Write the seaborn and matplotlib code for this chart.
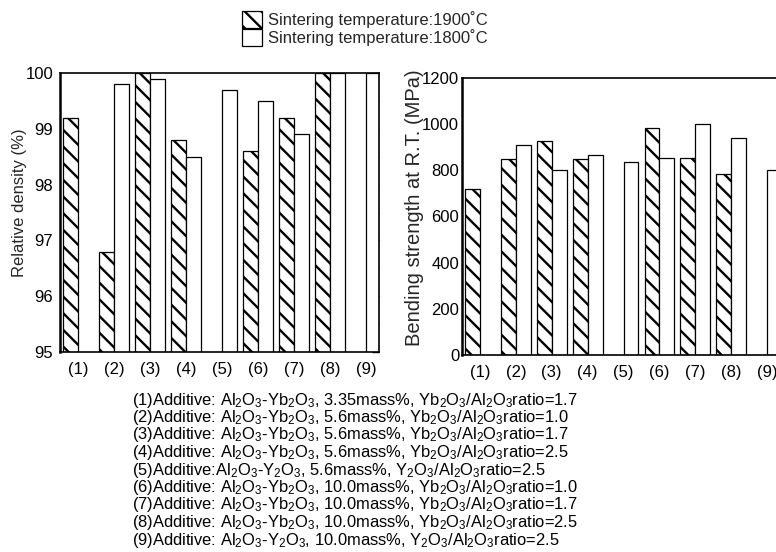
import numpy as np
import pandas as pd
import matplotlib
matplotlib.use("Agg")
import matplotlib.pyplot as plt
from matplotlib.patches import Patch
from matplotlib.ticker import MultipleLocator
import seaborn as sns

# Sample labels and sintering conditions
samples = ["(1)", "(2)", "(3)", "(4)", "(5)", "(6)", "(7)", "(8)", "(9)"]
temps = ["Sintering temperature:1900˚C", "Sintering temperature:1800˚C"]

# Relative density (%)
density_1900 = [99.2, 96.8, 100.0, 98.8, np.nan, 98.6, 99.2, 100.0, np.nan]
density_1800 = [np.nan, 99.8, 99.9, 98.5, 99.7, 99.5, 98.9, 100.0, 100.0]

# Bending strength at room temperature (MPa)
strength_1900 = [720, 850, 925, 850, np.nan, 985, 855, 785, np.nan]
strength_1800 = [np.nan, 910, 800, 865, 835, 855, 1000, 940, 800]

captions = [
    "(1)Additive: Al$_2$O$_3$-Yb$_2$O$_3$, 3.35mass%, Yb$_2$O$_3$/Al$_2$O$_3$ratio=1.7",
    "(2)Additive: Al$_2$O$_3$-Yb$_2$O$_3$, 5.6mass%, Yb$_2$O$_3$/Al$_2$O$_3$ratio=1.0",
    "(3)Additive: Al$_2$O$_3$-Yb$_2$O$_3$, 5.6mass%, Yb$_2$O$_3$/Al$_2$O$_3$ratio=1.7",
    "(4)Additive: Al$_2$O$_3$-Yb$_2$O$_3$, 5.6mass%, Yb$_2$O$_3$/Al$_2$O$_3$ratio=2.5",
    "(5)Additive:Al$_2$O$_3$-Y$_2$O$_3$, 5.6mass%, Y$_2$O$_3$/Al$_2$O$_3$ratio=2.5",
    "(6)Additive: Al$_2$O$_3$-Yb$_2$O$_3$, 10.0mass%, Yb$_2$O$_3$/Al$_2$O$_3$ratio=1.0",
    "(7)Additive: Al$_2$O$_3$-Yb$_2$O$_3$, 10.0mass%, Yb$_2$O$_3$/Al$_2$O$_3$ratio=1.7",
    "(8)Additive: Al$_2$O$_3$-Yb$_2$O$_3$, 10.0mass%, Yb$_2$O$_3$/Al$_2$O$_3$ratio=2.5",
    "(9)Additive: Al$_2$O$_3$-Y$_2$O$_3$, 10.0mass%, Y$_2$O$_3$/Al$_2$O$_3$ratio=2.5",
]

sns.set_theme(style="white")
plt.rcParams["font.family"] = ["Liberation Sans", "DejaVu Sans"]
plt.rcParams["mathtext.fontset"] = "custom"
plt.rcParams["mathtext.rm"] = "Liberation Sans"
plt.rcParams["mathtext.default"] = "regular"
plt.rcParams["hatch.linewidth"] = 1.7
plt.rcParams["hatch.color"] = "black"

HATCH = "\\\\"


def long_table(v1900, v1800):
    rows = []
    for s, a, b in zip(samples, v1900, v1800):
        rows.append((s, temps[0], a))
        rows.append((s, temps[1], b))
    df = pd.DataFrame(rows, columns=["sample", "temp", "value"])
    return df.dropna()


def draw_bars(ax, df):
    sns.barplot(data=df, x="sample", y="value", hue="temp", order=samples,
                hue_order=temps, width=0.83, dodge=True, ax=ax, legend=False,
                errorbar=None, palette=["white", "white"], saturation=1,
                edgecolor="black", linewidth=0.9)
    for bar in ax.containers[0]:
        bar.set_hatch(HATCH)
    ax.set_xlim(-0.5, 8.36)
    ax.set_xlabel("")
    ax.tick_params(axis="x", length=0, labelsize=12, pad=7, colors="black")
    ax.tick_params(axis="y", which="major", direction="in", length=5,
                   width=1, labelsize=12, colors="black")
    ax.tick_params(axis="y", which="minor", direction="in", length=3,
                   width=0.8)
    for sp in ax.spines.values():
        sp.set_color("black")
        sp.set_linewidth(1.2)
    ax.spines["left"].set_linewidth(1.8)


fig = plt.figure(figsize=(7.76, 5.52), dpi=100)

# Relative density panel
ax1 = fig.add_axes([60 / 776, 1 - 352 / 552, 319 / 776, 279 / 552])
draw_bars(ax1, long_table(density_1900, density_1800))
ax1.set_ylim(95, 100)
ax1.yaxis.set_major_locator(MultipleLocator(1))
ax1.yaxis.set_minor_locator(MultipleLocator(0.5))
ax1.tick_params(axis="y", which="both", right=True, pad=5)
ax1.set_ylabel("Relative density (%)", fontsize=12)
ax1.yaxis.set_label_coords(-0.104, 0.536)

# Bending strength panel (extends past the right edge of the figure)
ax2 = fig.add_axes([462 / 776, 1 - 355 / 552, 318 / 776, 277 / 552])
draw_bars(ax2, long_table(strength_1900, strength_1800))
ax2.set_ylim(0, 1200)
ax2.yaxis.set_major_locator(MultipleLocator(200))
ax2.yaxis.set_minor_locator(MultipleLocator(40))
ax2.tick_params(axis="y", which="both", pad=2)
ax2.set_ylabel("Bending strength at R.T. (MPa)", fontsize=14.5)
ax2.yaxis.set_label_coords(-0.118, 0.532)

# Shared legend above the panels
handles = [Patch(facecolor="white", edgecolor="black", hatch=HATCH, linewidth=0.9),
           Patch(facecolor="white", edgecolor="black", linewidth=0.9)]
fig.legend(handles, temps, loc="upper left",
           bbox_to_anchor=(242 / 776, 1 - 11 / 552), frameon=False,
           fontsize=12, handlelength=1.2, handleheight=1.2,
           handletextpad=0.35, labelspacing=0.05, borderpad=0,
           borderaxespad=0)

# Sample composition notes
for i, line in enumerate(captions):
    fig.text(132 / 776, 1 - (400 + 17.5 * i) / 552, line, fontsize=11.9,
             ha="left", va="center", color="black")

fig.savefig("out.png", dpi=100)
